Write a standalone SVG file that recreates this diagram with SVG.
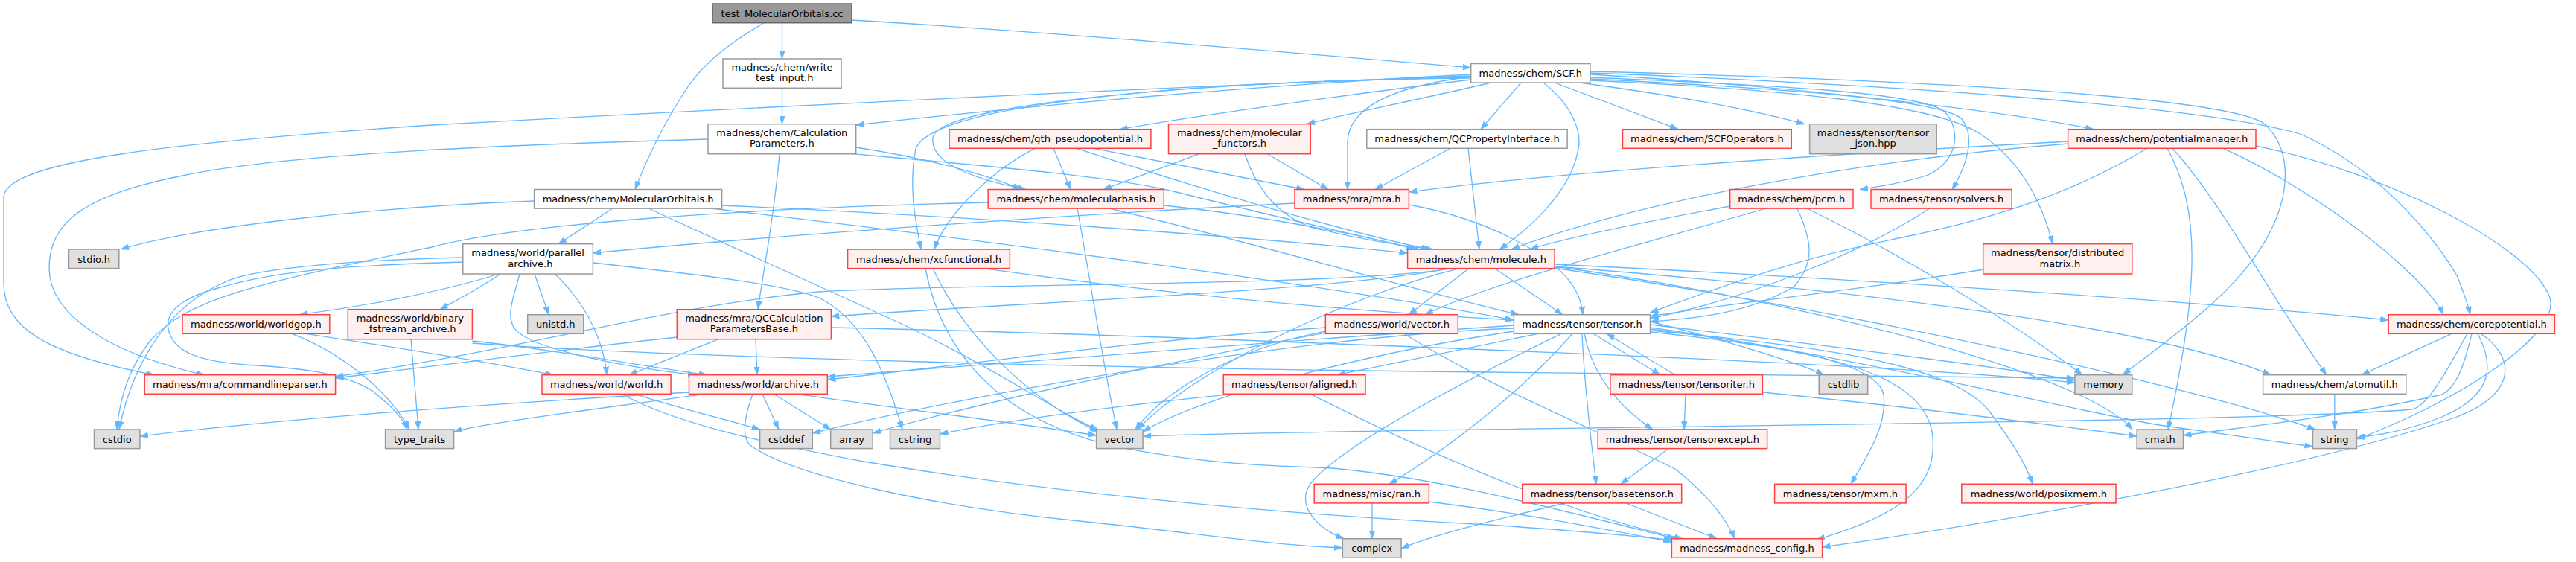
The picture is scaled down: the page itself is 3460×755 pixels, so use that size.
<svg xmlns="http://www.w3.org/2000/svg" width="3460" height="755" viewBox="0 0 3460 755">
<style>
text{font-family:"DejaVu Sans","Liberation Sans",sans-serif;font-size:13px;fill:#000;text-anchor:middle}
.w rect{fill:#fff;stroke:#999;stroke-width:1.5}
.r rect{fill:#fff0f0;stroke:#ff4040;stroke-width:1.5}
.g rect{fill:#e0e0e0;stroke:#999;stroke-width:1.5}
.root rect{fill:#999;stroke:#666;stroke-width:1.5}
#edges path{fill:none;stroke:#63b8ff;stroke-width:1.3;marker-end:url(#ah)}
</style>
<defs>
<marker id="ah" viewBox="0 0 11 8" refX="11" refY="4" markerWidth="11" markerHeight="8" markerUnits="userSpaceOnUse" orient="auto">
<path d="M0,0 L11,4 L0,8 Z" fill="#63b8ff" stroke="#63b8ff" stroke-width="0.5"/>
</marker>
</defs>
<rect width="3460" height="755" fill="#fff"/>
<g id="edges">
<path d="M1050.5,30.7 L1050.5,79"/>
<path d="M1026,30.7 C985,55 950,80 925,115 C895,160 870,210 853,254.5"/>
<path d="M1144,27 C1400,42 1750,72 1975.7,91"/>
<path d="M1050.5,118.3 L1050.5,166.7"/>
<path d="M951,187 C700,194 400,205 250,235 C110,262 66,300 66,360 C66,425 150,475 274,503.7"/>
<path d="M1047,206.7 C1040,290 1026,360 1018,415.7"/>
<path d="M1149.7,198 C1250,213 1335,238 1371,254.5"/>
<path d="M1145,206.7 C1350,225 1500,238 1580,258 C1700,288 1840,320 1906,335"/>
<path d="M1975.7,100 C1700,114 1400,140 1149.7,168"/>
<path d="M1975.7,102 C1600,115 1000,145 580,168 C250,190 5,215 5,265 L5,380 C5,440 60,475 207,503.7"/>
<path d="M1975.7,107 C1800,128 1600,157 1504,173.7"/>
<path d="M2003,111 C1900,135 1800,155 1755,166.7"/>
<path d="M1975.7,104 C1600,110 1260,140 1253,185 C1248,225 1330,245 1378,254.5"/>
<path d="M1975.7,105 C1600,108 1250,140 1230,200 C1220,250 1230,300 1237,335"/>
<path d="M2043,111 L1989,173.7"/>
<path d="M1975.7,103 C1880,115 1812,140 1810,190 L1810,254.5"/>
<path d="M2073,111 C2110,140 2125,175 2120,200 C2110,260 2050,310 2014,335"/>
<path d="M2088,111 L2254,173.7"/>
<path d="M2121,111 C2300,135 2380,155 2424,166.7"/>
<path d="M2135.9,100 C2400,115 2700,150 2812,173.7"/>
<path d="M2135.9,104 C2400,115 2580,125 2612,150 C2635,175 2630,215 2590,235 C2560,245 2530,250 2498,254.5"/>
<path d="M2135.9,106 C2420,120 2610,135 2635,160 C2655,185 2640,225 2622,254.5"/>
<path d="M2135.9,108 C2400,120 2600,140 2660,180 C2720,220 2745,280 2757,327.7"/>
<path d="M2135.9,98 C2500,112 2950,140 3090,180 C3200,230 3270,320 3300,370 C3310,395 3315,410 3318,422.7"/>
<path d="M2135.9,96 C2600,108 2980,130 3040,165 C3080,200 3075,260 3050,310 C3010,390 2920,450 2851,503.7"/>
<path d="M1611,206.7 L1482,254.5"/>
<path d="M1702,206.7 L1784,254.5"/>
<path d="M1672,206.7 C1690,260 1720,290 1760,305 C1820,320 1880,330 1925,335"/>
<path d="M1390,199.3 C1330,230 1270,290 1255,335"/>
<path d="M1415,199.3 L1438,254.5"/>
<path d="M1446,199.3 C1600,250 1800,310 1920,335"/>
<path d="M1469,199.3 C1600,225 1700,245 1752,254.5"/>
<path d="M1948,199.3 L1847,254.5"/>
<path d="M1972,199.3 L1987,335"/>
<path d="M717.6,270 C500,278 260,305 162,335"/>
<path d="M823,280 L750,327.7"/>
<path d="M871,280 C980,330 1100,385 1200,430 C1330,490 1430,560 1475,577"/>
<path d="M969.6,276 C1300,290 1700,320 1890.6,340"/>
<path d="M955,280 C1300,320 1800,385 2033,430"/>
<path d="M1327.2,272 C1000,280 700,300 580,332 C350,380 250,400 200,460 C170,500 160,540 157,577"/>
<path d="M1447,280 C1460,350 1480,480 1500,577"/>
<path d="M1563.3,276 C1700,290 1850,320 1900,335"/>
<path d="M1490,280 C1700,330 1900,390 2040,422.7"/>
<path d="M1739,273 C1400,290 1000,320 796.4,340"/>
<path d="M1892.4,275 C2000,295 2080,340 2110,380 C2120,395 2124,405 2126,422.7"/>
<path d="M1243,360.6 C1260,450 1320,560 1500,600 C1650,630 1750,625 1800,630 C1900,640 2000,660 2250,723.7"/>
<path d="M1253,360.6 C1280,420 1350,520 1475,580"/>
<path d="M1321,360.6 C1600,400 1850,420 2033,430"/>
<path d="M670,368 C600,390 500,410 402,422.7"/>
<path d="M672,368 C640,390 610,405 591,415.7"/>
<path d="M698,368 C690,400 680,420 690,440 C710,470 850,495 935,503.7"/>
<path d="M718,368 L737,422.7"/>
<path d="M745,368 C780,400 810,450 815,503.7"/>
<path d="M621.8,346 C450,350 330,363 300,380 C230,410 180,480 160,577"/>
<path d="M621.8,352 C480,356 380,362 300,385 C240,400 222,420 226,442 C232,470 260,485 330,490 C400,494 460,500 500,525 C525,545 540,560 547,577"/>
<path d="M796.4,353 C900,365 1050,380 1100,400 C1160,430 1190,500 1212,577"/>
<path d="M552,455.7 L562,577"/>
<path d="M634.4,458 C750,470 880,495 950,503.7"/>
<path d="M634.4,461 C900,480 1500,495 2000,500 C2400,505 2700,506 2786.9,508"/>
<path d="M946,529.3 C800,550 650,568 609.6,580"/>
<path d="M925.5,527 C700,540 400,560 187.9,586"/>
<path d="M1024,529.3 L1046,577"/>
<path d="M1039,529.3 L1116,577"/>
<path d="M1011,529.3 C1000,560 995,590 1010,600 C1070,640 1250,680 1450,700 C1600,715 1700,732 1803.3,736"/>
<path d="M1070,529.3 C1200,548 1380,570 1472.6,585"/>
<path d="M1946,360.7 C1800,390 1400,405 1116.4,425"/>
<path d="M1950,360.7 C1800,385 1300,380 1100,392 C900,410 700,470 450.6,506"/>
<path d="M853,529.3 C900,545 980,565 1020.6,577"/>
<path d="M835,529.3 C900,565 1000,590 1160,620 C1400,660 1700,690 2000,705 C2100,712 2200,720 2245.4,726"/>
<path d="M909.3,453 C750,470 600,490 450.6,508"/>
<path d="M965,455.7 L845,503.7"/>
<path d="M1015,455.7 L1017,503.7"/>
<path d="M1116.4,440 C1400,446 1700,458 2000,470 C2400,486 2650,500 2786.9,514"/>
<path d="M392,448.3 C450,470 520,520 550,577"/>
<path d="M411,448.3 C520,465 650,485 743,503.7"/>
<path d="M1886,448.3 C2000,520 2150,580 2250,630 C2300,670 2320,700 2330,723.7"/>
<path d="M1780.3,445 C1650,470 1560,530 1525,577"/>
<path d="M1780.3,440 C1500,460 1300,490 1111.3,510"/>
<path d="M1780.3,447 C1550,490 1300,545 1172.2,582"/>
<path d="M2033.4,437 C1700,460 1300,490 1111.3,506"/>
<path d="M2033.4,441 C1740,452 1300,530 1091.3,582"/>
<path d="M2066,448.3 L1796,503.7"/>
<path d="M2112,448.3 C2050,520 1950,600 1866,650.3"/>
<path d="M2097,448.3 C1950,520 1800,600 1760,650 C1740,680 1770,710 1805,723.7"/>
<path d="M2125,448.3 C2128,520 2138,600 2144,650.3"/>
<path d="M2128,448.3 C2140,510 2180,550 2220,577"/>
<path d="M2140,448.3 L2230,503.7"/>
<path d="M2250,503.7 L2158,448.3"/>
<path d="M2264,529.3 L2262,577"/>
<path d="M2367.4,527 C2550,545 2750,570 2870,586"/>
<path d="M2241,602.7 L2177,650.3"/>
<path d="M2102,676 C2000,700 1920,720 1882.1,737"/>
<path d="M2184,676 L2306,723.7"/>
<path d="M1843,676 L1843,723.7"/>
<path d="M1919.4,674 C2050,690 2150,710 2245.4,728"/>
<path d="M1760,529.3 C1900,600 2100,690 2260,723.7"/>
<path d="M1656,529.3 C1500,545 1350,565 1262.5,583"/>
<path d="M2033.4,445 C1800,480 1600,540 1535,580"/>
<path d="M2216.5,432 C2330,460 2420,490 2450,503.7"/>
<path d="M2216.5,436 C2500,470 2700,495 2786.9,511"/>
<path d="M2216.5,440 C2500,480 2800,555 2900,571 C2980,582 3050,592 3106.4,600"/>
<path d="M2216.5,442 C2350,460 2520,480 2530,530 C2535,570 2510,610 2486,650.3"/>
<path d="M2216.5,444 C2450,465 2620,490 2670,550 C2700,590 2720,620 2730,650.3"/>
<path d="M2216.5,446 C2450,470 2580,500 2595,580 C2605,650 2560,690 2440,725"/>
<path d="M2414,280 C2432,320 2440,350 2410,385 C2350,420 2280,428 2216.5,432"/>
<path d="M2372,280 C2200,330 2000,380 1914,422.7"/>
<path d="M2427,280 C2550,340 2700,430 2797,503.7"/>
<path d="M2323.7,277 C2200,300 2100,320 2055,335"/>
<path d="M2592,280 C2500,340 2350,400 2216.5,428"/>
<path d="M2663.7,362 C2500,390 2300,410 2216.5,425"/>
<path d="M2777.6,190 C2500,205 2100,230 1892.4,258"/>
<path d="M2777.6,193 C2500,215 2200,270 2030,335"/>
<path d="M2884,199.3 C2800,250 2700,290 2550,320 C2400,350 2300,390 2216.5,420"/>
<path d="M2986,199.3 C3100,250 3250,360 3282,422.7"/>
<path d="M3030,196 C3200,230 3400,330 3425,400 C3440,450 3300,540 3165.4,590"/>
<path d="M2911,199.3 C2955,280 2955,380 2912,577"/>
<path d="M2918,199.3 C2990,280 3050,400 3125,503.7"/>
<path d="M3293,448.3 L3172,503.7"/>
<path d="M3314,448.3 C3280,510 3260,545 3240,550 C3000,570 1800,575 1535.1,586"/>
<path d="M3320,448.3 C3310,490 3300,520 3280,530 C3150,560 3000,575 2932.5,585"/>
<path d="M3328,448.3 C3350,490 3350,530 3280,560 C3230,580 3190,585 3165.4,588"/>
<path d="M3332,448.3 C3380,480 3380,530 3300,560 C3100,630 2700,700 2447.6,735"/>
<path d="M3135.8,529.3 L3135.8,577"/>
<path d="M2088.1,355 C2400,370 2900,400 3208.2,430"/>
<path d="M2088.1,358 C2500,390 2900,440 3050,503.7"/>
<path d="M2088.1,360 C2500,420 2950,520 3110,577"/>
<path d="M1973,360.7 L1892,422.7"/>
<path d="M2008,360.7 L2099,422.7"/>
<path d="M1960,360.7 C1800,400 1600,500 1528,577"/>
<path d="M2088,358 C2400,400 2800,500 2864,577"/>
</g>
<g id="n_test" class="root"><rect x="957" y="5" width="187" height="25.7"/><text x="1050.5" y="22.5">test_MolecularOrbitals.cc</text></g>
<g id="n_write" class="w"><rect x="971" y="79" width="159" height="39.3"/><text x="1050.5" y="95">madness/chem/write</text><text x="1050.5" y="109.4">_test_input.h</text></g>
<g id="n_calc" class="w"><rect x="951" y="166.7" width="198.7" height="40"/><text x="1050.3" y="183">madness/chem/Calculation</text><text x="1050.3" y="197.4">Parameters.h</text></g>
<g id="n_mo" class="w"><rect x="717.6" y="254.5" width="252" height="25.6"/><text x="843.6" y="271.9">madness/chem/MolecularOrbitals.h</text></g>
<g id="n_pa" class="w"><rect x="621.8" y="327.7" width="174.6" height="40.3"/><text x="709.1" y="344.1">madness/world/parallel</text><text x="709.1" y="358.5">_archive.h</text></g>
<g id="n_stdio" class="g"><rect x="92.5" y="335" width="67.3" height="25.6"/><text x="126.2" y="352.5">stdio.h</text></g>
<g id="n_gth" class="r"><rect x="1275" y="173.7" width="270.9" height="25.6"/><text x="1410.5" y="191.2">madness/chem/gth_pseudopotential.h</text></g>
<g id="n_mf" class="r"><rect x="1569.5" y="166.7" width="190.8" height="40"/><text x="1664.9" y="183">madness/chem/molecular</text><text x="1664.9" y="197.4">_functors.h</text></g>
<g id="n_mb" class="r"><rect x="1327.2" y="254.5" width="236.1" height="25.6"/><text x="1445.3" y="271.9">madness/chem/molecularbasis.h</text></g>
<g id="n_xc" class="r"><rect x="1138.6" y="335" width="217.8" height="25.6"/><text x="1247.5" y="352.5">madness/chem/xcfunctional.h</text></g>
<g id="n_scf" class="w"><rect x="1975.7" y="85.5" width="160.2" height="25.6"/><text x="2055.8" y="103">madness/chem/SCF.h</text></g>
<g id="n_qcp" class="w"><rect x="1835.8" y="173.7" width="269.3" height="25.6"/><text x="1970.5" y="191.2">madness/chem/QCPropertyInterface.h</text></g>
<g id="n_scfo" class="r"><rect x="2179.5" y="173.7" width="226.7" height="25.6"/><text x="2292.9" y="191.2">madness/chem/SCFOperators.h</text></g>
<g id="n_mra" class="r"><rect x="1739" y="254.5" width="153.4" height="25.6"/><text x="1815.7" y="271.9">madness/mra/mra.h</text></g>
<g id="n_mol" class="r"><rect x="1890.6" y="335" width="197.5" height="25.6"/><text x="1989.4" y="352.5">madness/chem/molecule.h</text></g>
<g id="n_tj" class="g"><rect x="2430.6" y="166.7" width="170.6" height="40"/><text x="2515.9" y="183">madness/tensor/tensor</text><text x="2515.9" y="197.4">_json.hpp</text></g>
<g id="n_pm" class="r"><rect x="2777.6" y="173.7" width="252.4" height="25.6"/><text x="2903.8" y="191.2">madness/chem/potentialmanager.h</text></g>
<g id="n_pcm" class="r"><rect x="2323.7" y="254.5" width="165.3" height="25.6"/><text x="2406.3" y="271.9">madness/chem/pcm.h</text></g>
<g id="n_sol" class="r"><rect x="2513" y="254.5" width="189.2" height="25.6"/><text x="2607.6" y="271.9">madness/tensor/solvers.h</text></g>
<g id="n_dm" class="r"><rect x="2663.7" y="327.7" width="200.1" height="40.3"/><text x="2763.7" y="344.1">madness/tensor/distributed</text><text x="2763.7" y="358.5">_matrix.h</text></g>
<g id="n_cp" class="r"><rect x="3208.2" y="422.7" width="223.2" height="25.6"/><text x="3319.8" y="440.2">madness/chem/corepotential.h</text></g>
<g id="n_au" class="w"><rect x="3039.6" y="503.7" width="192.2" height="25.6"/><text x="3135.7" y="521.2">madness/chem/atomutil.h</text></g>
<g id="n_str" class="g"><rect x="3106.4" y="577" width="59" height="25.6"/><text x="3135.9" y="594.5">string</text></g>
<g id="n_cmath" class="g"><rect x="2870.1" y="577" width="62.4" height="25.6"/><text x="2901.3" y="594.5">cmath</text></g>
<g id="n_mem" class="g"><rect x="2786.9" y="503.7" width="76.9" height="25.6"/><text x="2825.4" y="521.2">memory</text></g>
<g id="n_cstdlib" class="g"><rect x="2443.2" y="503.7" width="65.5" height="25.6"/><text x="2476" y="521.2">cstdlib</text></g>
<g id="n_mxm" class="r"><rect x="2383.6" y="650.3" width="176.5" height="25.6"/><text x="2471.9" y="667.8">madness/tensor/mxm.h</text></g>
<g id="n_pmem" class="r"><rect x="2634.8" y="650.3" width="207.2" height="25.6"/><text x="2738.4" y="667.8">madness/world/posixmem.h</text></g>
<g id="n_cfg" class="r"><rect x="2245.4" y="723.7" width="202.2" height="25.6"/><text x="2346.5" y="741.2">madness/madness_config.h</text></g>
<g id="n_te" class="r"><rect x="2146.2" y="577" width="227.4" height="25.6"/><text x="2259.9" y="594.5">madness/tensor/tensorexcept.h</text></g>
<g id="n_ti" class="r"><rect x="2162.9" y="503.7" width="204.5" height="25.6"/><text x="2265.2" y="521.2">madness/tensor/tensoriter.h</text></g>
<g id="n_bt" class="r"><rect x="2044.8" y="650.3" width="213.9" height="25.6"/><text x="2151.8" y="667.8">madness/tensor/basetensor.h</text></g>
<g id="n_ran" class="r"><rect x="1765.2" y="650.3" width="154.2" height="25.6"/><text x="1842.3" y="667.8">madness/misc/ran.h</text></g>
<g id="n_cplx" class="g"><rect x="1803.3" y="723.7" width="78.8" height="25.6"/><text x="1842.7" y="741.2">complex</text></g>
<g id="n_ten" class="w"><rect x="2033.4" y="422.7" width="183.1" height="25.6"/><text x="2125" y="440.2">madness/tensor/tensor.h</text></g>
<g id="n_wv" class="r"><rect x="1780.3" y="422.7" width="178" height="25.6"/><text x="1869.3" y="440.2">madness/world/vector.h</text></g>
<g id="n_al" class="r"><rect x="1643.2" y="503.7" width="190.8" height="25.6"/><text x="1738.6" y="521.2">madness/tensor/aligned.h</text></g>
<g id="n_vec" class="g"><rect x="1472.6" y="577" width="62.5" height="25.6"/><text x="1503.9" y="594.5">vector</text></g>
<g id="n_cstr" class="g"><rect x="1195.5" y="577" width="67" height="25.6"/><text x="1229" y="594.5">cstring</text></g>
<g id="n_arr" class="g"><rect x="1115.7" y="577" width="56.5" height="25.6"/><text x="1144" y="594.5">array</text></g>
<g id="n_cstddef" class="g"><rect x="1020.6" y="577" width="70.7" height="25.6"/><text x="1056" y="594.5">cstddef</text></g>
<g id="n_ar" class="r"><rect x="925.5" y="503.7" width="185.8" height="25.6"/><text x="1018.4" y="521.2">madness/world/archive.h</text></g>
<g id="n_wld" class="r"><rect x="728" y="503.7" width="173.1" height="25.6"/><text x="814.6" y="521.2">madness/world/world.h</text></g>
<g id="n_qcb" class="r"><rect x="909.3" y="415.7" width="207.1" height="40"/><text x="1012.9" y="432">madness/mra/QCCalculation</text><text x="1012.9" y="446.4">ParametersBase.h</text></g>
<g id="n_uni" class="g"><rect x="708.7" y="422.7" width="75.1" height="25.6"/><text x="746.3" y="440.2">unistd.h</text></g>
<g id="n_tt" class="g"><rect x="517.6" y="577" width="92" height="25.6"/><text x="563.6" y="594.5">type_traits</text></g>
<g id="n_cstdio" class="g"><rect x="126.5" y="577" width="61.4" height="25.6"/><text x="157.2" y="594.5">cstdio</text></g>
<g id="n_cl" class="r"><rect x="194.2" y="503.7" width="256.4" height="25.6"/><text x="322.4" y="521.2">madness/mra/commandlineparser.h</text></g>
<g id="n_wg" class="r"><rect x="245" y="422.7" width="197.8" height="25.6"/><text x="343.9" y="440.2">madness/world/worldgop.h</text></g>
<g id="n_bin" class="r"><rect x="467.3" y="415.7" width="167.1" height="40"/><text x="550.9" y="432">madness/world/binary</text><text x="550.9" y="446.4">_fstream_archive.h</text></g>
</svg>
